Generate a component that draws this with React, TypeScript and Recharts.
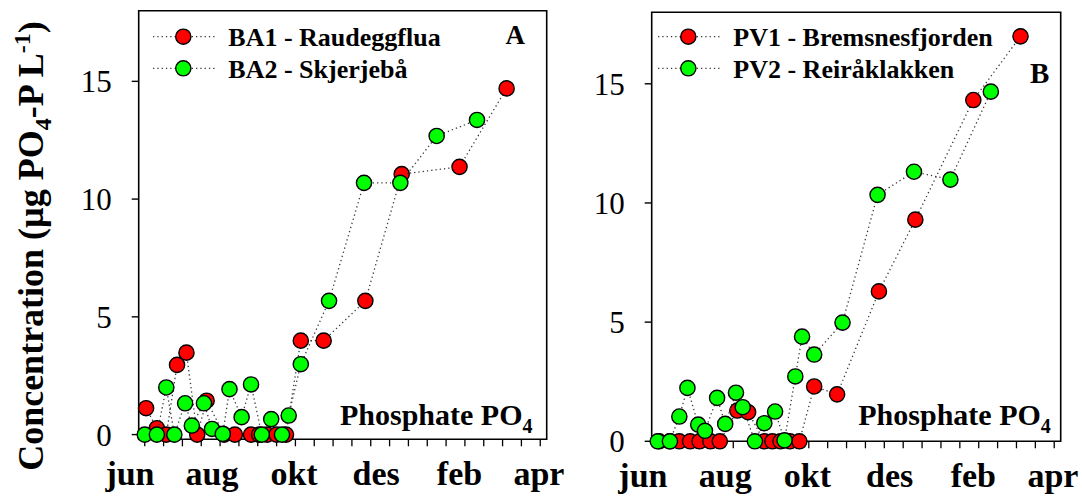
import React from 'react';
import { ScatterChart, Scatter, XAxis, YAxis, Legend, ReferenceArea, ReferenceDot } from 'recharts';

const FONT = '"Liberation Serif", "Times New Roman", Times, serif';

// x values are days counted from 1 June
const monthLabels = ['jun', 'aug', 'okt', 'des', 'feb', 'apr'];
const monthDays = [0, 61, 122, 183, 245, 304];
const minorTickDays = [11, 25, 39, 53, 67, 81, 95, 109, 123, 137, 151, 165, 179, 193, 207, 221, 235, 249, 263, 277, 291, 305];
const yTicks = [0, 5, 10, 15];

const station1Days = [12, 20, 27, 35, 42, 50, 57, 70, 78, 90, 96, 102, 109, 116, 127, 144, 175, 202, 245, 280];
const station2Days = [11, 20, 27, 33, 41, 46, 55, 61, 69, 74, 83, 90, 98, 105, 113, 118, 127, 148, 174, 201, 228, 258];

const ba1Values = [1.12, 0.27, 0, 2.96, 3.48, 0, 1.44, 0, 0, 0, 0, 0, 0, 0, 3.99, 3.99, 5.68, 11.06, 11.37, 14.7];
const ba2Values = [0, 0, 2.0, 0, 1.33, 0.38, 1.33, 0.24, 0.03, 1.93, 0.74, 2.13, 0, 0.66, 0, 0.81, 2.99, 5.68, 10.69, 10.69, 12.68, 13.36];
const pv1Values = [0, 0, 0, 0, 0, 0, 0, 1.29, 1.22, 0, 0, 0, 0, 0, 2.3, 1.97, 6.29, 9.3, 14.32, 16.99];
const pv2Values = [0, 0, 1.04, 2.24, 0.7, 0.44, 1.82, 0.73, 2.04, 1.43, 0, 0.76, 1.25, 0.04, 2.72, 4.39, 3.64, 4.98, 10.34, 11.31, 10.98, 14.67];

const panelANames = ['BA1 - Raudeggflua', 'BA2 - Skjerjebå'];
const panelBNames = ['PV1 - Bremsnesfjorden', 'PV2 - Reiråklakken'];
const seriesColors = ['#ff0000', '#00ff00'];

const toPoints = (days: number[], vals: number[]) => days.map((d, i) => ({ x: d, y: vals[i] }));

const LINE_STYLE = { stroke: '#3a3a3a', strokeWidth: 1.3, strokeDasharray: '1.3 3' };

type Series = { name: string; color: string; data: { x: number; y: number }[] };

const LegendBox = ({ series }: { series: Series[] }) => (
  <svg width={340} height={70} style={{ display: 'block', overflow: 'visible' }}>
    {series.map((s, i) => {
      const cy = 18.7 + 31.6 * i;
      return (
        <g key={s.name}>
          <line x1={3} x2={65} y1={cy} y2={cy} {...LINE_STYLE} />
          <circle cx={33.3} cy={cy} r={7.6} fill={s.color} stroke="#000" strokeWidth={1.4} />
          <text x={78.3} y={cy + 9.3} fontFamily={FONT} fontWeight="bold" fontSize={26} fill="#000">
            {s.name}
          </text>
        </g>
      );
    })}
  </svg>
);

type PanelProps = {
  left: number;
  width: number;
  plotLeft: number;
  plotTop: number;
  plotRight: number;
  plotBottom: number;
  yDomain: [number, number];
  series: Series[];
  letter: string;
  letterX: number;
  letterY: number;
  letterSize: number;
  phosX: number;
  legendLeft: number;
  showTitle: boolean;
};

const H = 498;
const xDomain: [number, number] = [6.5, 309.8];

function Panel(p: PanelProps) {
  const yMin = p.yDomain[0];
  return (
    <div style={{ position: 'absolute', left: p.left, top: 0, width: p.width, height: H }}>
      <ScatterChart
        width={p.width}
        height={H}
        margin={{ top: p.plotTop, right: p.width - p.plotRight, bottom: H - p.plotBottom, left: 0 }}
      >
        <XAxis type="number" dataKey="x" domain={xDomain} hide />
        <YAxis
          type="number"
          dataKey="y"
          domain={p.yDomain}
          ticks={yTicks}
          interval={0}
          width={p.plotLeft}
          tickSize={7}
          tickMargin={20}
          axisLine={false}
          tickLine={false}
          tick={{ fontSize: 31, fill: '#000', fontFamily: FONT }}
        />
        <ReferenceArea
          x1={xDomain[0]}
          x2={xDomain[1]}
          y1={p.yDomain[0]}
          y2={p.yDomain[1]}
          fill="none"
          fillOpacity={0}
          stroke="#000"
          strokeWidth={1.6}
          ifOverflow="visible"
        />
        {yTicks.map((v) => (
          <ReferenceDot
            key={'yt' + v}
            x={xDomain[0]}
            y={v}
            ifOverflow="visible"
            shape={(sp: any) => <path d={`M${sp.cx - 7},${sp.cy}h7`} stroke="#000" strokeWidth={1.4} />}
          />
        ))}
        {minorTickDays.map((d) => (
          <ReferenceDot
            key={'xt' + d}
            x={d}
            y={yMin}
            ifOverflow="visible"
            shape={(sp: any) => <path d={`M${sp.cx},${sp.cy}v7`} stroke="#000" strokeWidth={1.3} />}
          />
        ))}
        {monthDays.map((d, i) => (
          <ReferenceDot
            key={'m' + d}
            x={d}
            y={yMin}
            ifOverflow="visible"
            shape={(sp: any) => (
              <text
                x={sp.cx}
                y={sp.cy + 45.6}
                textAnchor="middle"
                fontFamily={FONT}
                fontWeight="bold"
                fontSize={34}
                fill="#000"
              >
                {monthLabels[i]}
              </text>
            )}
          />
        ))}
        <Legend
          layout="vertical"
          align="center"
          verticalAlign="middle"
          wrapperStyle={{ position: 'absolute', left: p.legendLeft, top: 18, width: 340, height: 70 }}
          content={() => <LegendBox series={p.series} />}
        />
        {p.series.map((s) => (
          <Scatter
            key={s.name}
            name={s.name}
            data={s.data}
            fill={s.color}
            line={LINE_STYLE}
            lineType="joint"
            isAnimationActive={false}
            shape={(sp: any) => (
              <circle cx={sp.cx} cy={sp.cy} r={7.6} fill={s.color} stroke="#000" strokeWidth={1.4} />
            )}
          />
        ))}
      </ScatterChart>
      <svg
        width={p.width}
        height={H}
        style={{ position: 'absolute', left: 0, top: 0, pointerEvents: 'none' }}
      >
        <text x={p.letterX} y={p.letterY} textAnchor="end" fontFamily={FONT} fontWeight="bold" fontSize={p.letterSize} fill="#000">
          {p.letter}
        </text>
        <text x={p.phosX} y={425} fontFamily={FONT} fontWeight="bold" fontSize={30} fill="#000">
          Phosphate PO
          <tspan fontSize={20} dy={8}>4</tspan>
        </text>
        {p.showTitle && (
          <text
            x={42.7}
            y={246}
            transform="rotate(-90 42.7 246)"
            textAnchor="middle"
            fontFamily={FONT}
            fontWeight="bold"
            fontSize={36}
            fill="#000"
          >
            Concentration (µg PO
            <tspan fontSize={24} dy={8}>4</tspan>
            <tspan dy={-8}>-P L</tspan>
            <tspan fontSize={24} dy={-13}>-1</tspan>
            <tspan dy={13}>)</tspan>
          </text>
        )}
      </svg>
    </div>
  );
}

export default function App() {
  const seriesA: Series[] = [
    { name: panelANames[0], color: seriesColors[0], data: toPoints(station1Days, ba1Values) },
    { name: panelANames[1], color: seriesColors[1], data: toPoints(station2Days, ba2Values) },
  ];
  const seriesB: Series[] = [
    { name: panelBNames[0], color: seriesColors[0], data: toPoints(station1Days, pv1Values) },
    { name: panelBNames[1], color: seriesColors[1], data: toPoints(station2Days, pv2Values) },
  ];
  return (
    <div style={{ position: 'absolute', left: 0, top: 0, width: 1082, height: H, background: '#fff', overflow: 'hidden' }}>
      <Panel
        left={0}
        width={590}
        plotLeft={138.7}
        plotTop={10.7}
        plotRight={546.7}
        plotBottom={439.3}
        yDomain={[-0.2, 18]}
        series={seriesA}
        letter="A"
        letterX={525}
        letterY={44.3}
        letterSize={27}
        phosX={340}
        legendLeft={150}
        showTitle
      />
      <Panel
        left={560}
        width={522}
        plotLeft={91.7}
        plotTop={12.3}
        plotRight={500.7}
        plotBottom={441.3}
        yDomain={[0, 18]}
        series={seriesB}
        letter="B"
        letterX={489.3}
        letterY={83.3}
        letterSize={29}
        phosX={298.3}
        legendLeft={95}
        showTitle={false}
      />
    </div>
  );
}
